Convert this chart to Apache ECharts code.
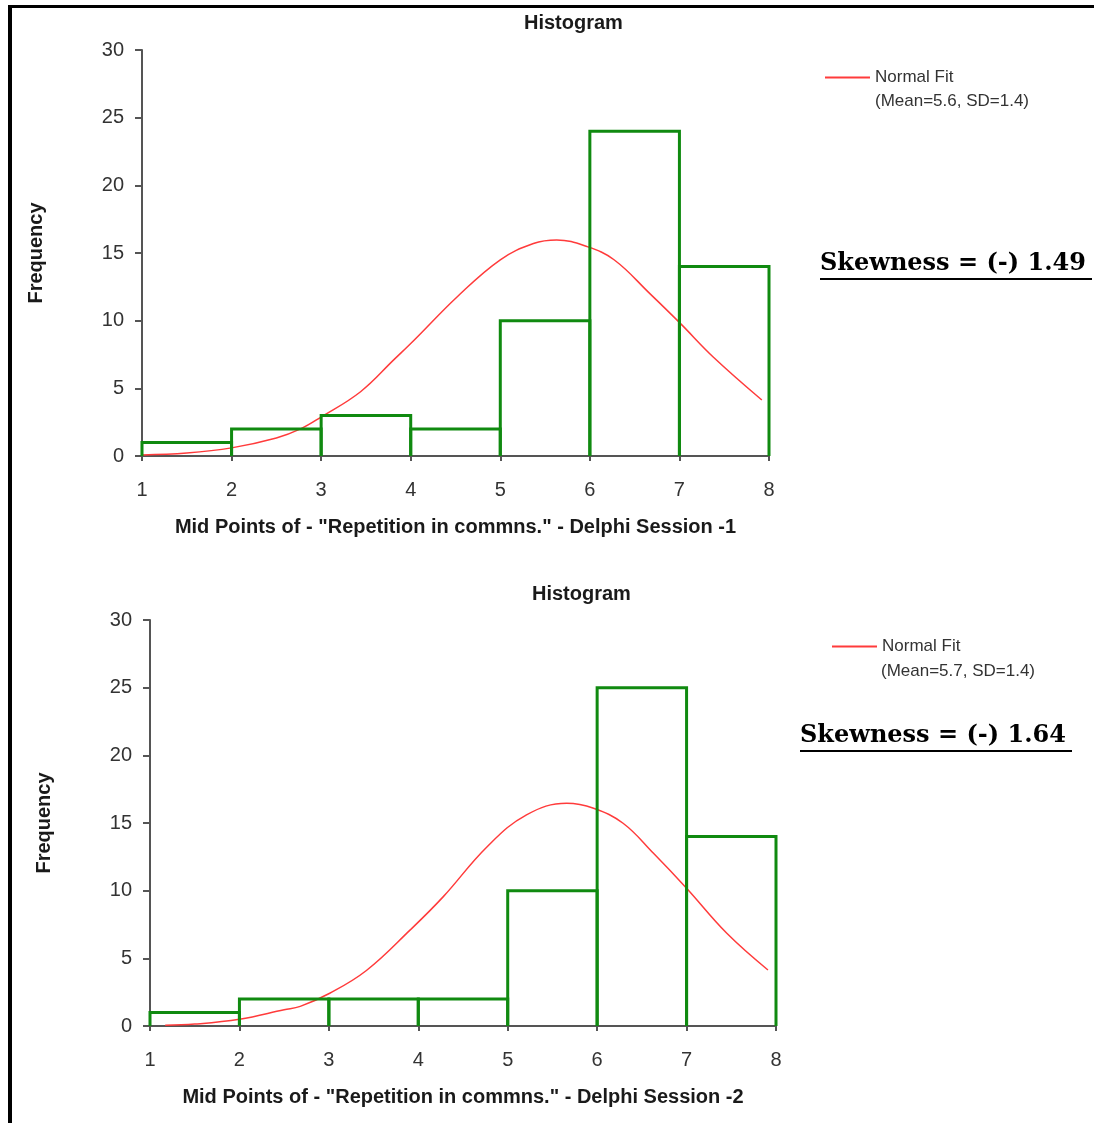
<!DOCTYPE html>
<html>
<head>
<meta charset="utf-8">
<script src="https://cdn.jsdelivr.net/npm/echarts@6/dist/echarts.min.js"></script>
<style>
html,body{margin:0;padding:0;background:#ffffff;}
#chart{width:1094px;height:1123px;}
</style>
</head>
<body>
<div id="chart"></div>
<script>
// ---- data ----
const binStart = [1, 2, 3, 4, 5, 6, 7];
const binEnd   = [2, 3, 4, 5, 6, 7, 8];
const freq1 = [1, 2, 3, 2, 10, 24, 14];
const freq2 = [1, 2, 2, 2, 10, 25, 14];

const fit1X = [1.0, 1.5, 2.0, 2.5, 2.77, 3.0, 3.44, 3.81, 4.04, 4.52, 5.0, 5.37, 5.63, 5.97, 6.27, 6.67, 7.01, 7.38, 7.92];
const fit1Y = [0.08, 0.22, 0.6, 1.33, 2.0, 2.88, 4.75, 7.1, 8.57, 11.77, 14.5, 15.7, 15.96, 15.47, 14.5, 12.0, 9.8, 7.3, 4.14];

const fit2X = [1.17, 1.5, 2.0, 2.5, 2.68, 3.01, 3.42, 3.91, 4.28, 4.77, 5.21, 5.66, 5.96, 6.29, 6.63, 7.0, 7.45, 7.91];
const fit2Y = [0.05, 0.14, 0.5, 1.2, 1.45, 2.42, 4.1, 7.1, 9.56, 13.25, 15.6, 16.46, 16.09, 14.98, 12.76, 10.18, 6.85, 4.14];

const titles = ['Histogram', 'Histogram'];
const xNames = ['Mid Points of - "Repetition in commns." - Delphi Session -1',
                'Mid Points of - "Repetition in commns." - Delphi Session -2'];
const yName = 'Frequency';
const fitName = 'Normal Fit';
const fitParams = ['(Mean=5.6, SD=1.4)', '(Mean=5.7, SD=1.4)'];
const skewTexts = ['Skewness = (-) 1.49', 'Skewness = (-) 1.64'];

// ---- build ----
const FONT = '"Liberation Sans", Arial, sans-serif';
const GREEN = '#108a10';
const RED = '#ff3b3b';

function zip(a, b) { return a.map((v, i) => [v, b[i]]); }
function bins(f) { return binStart.map((s, i) => [s, binEnd[i], f[i]]); }

const grids = [
  {left: 142, top: 50, width: 627, height: 406},
  {left: 150, top: 620, width: 626, height: 406}
];

function xAxis(i) {
  return {
    gridIndex: i, type: 'value', min: 1, max: 8, interval: 1,
    name: xNames[i], nameLocation: 'middle', nameGap: 61,
    nameTextStyle: {fontFamily: FONT, fontSize: 20, fontWeight: 'bold', color: '#1a1a1a'},
    axisLine: {show: true, lineStyle: {color: '#555', width: 2}},
    axisTick: {show: true, length: 5, lineStyle: {color: '#555', width: 2}},
    axisLabel: {fontFamily: FONT, fontSize: 20, color: '#333', margin: 24},
    splitLine: {show: false}
  };
}
function yAxis(i) {
  return {
    gridIndex: i, type: 'value', min: 0, max: 30, interval: 5,
    name: yName, nameLocation: 'middle', nameGap: 96, nameRotate: 90,
    nameTextStyle: {fontFamily: FONT, fontSize: 20, fontWeight: 'bold', color: '#1a1a1a'},
    axisLine: {show: true, lineStyle: {color: '#555', width: 2}},
    axisTick: {show: true, length: 7, lineStyle: {color: '#555', width: 2}},
    axisLabel: {fontFamily: FONT, fontSize: 20, color: '#333', margin: 18},
    splitLine: {show: false}
  };
}

function histSeries(i, f) {
  return {
    type: 'custom', xAxisIndex: i, yAxisIndex: i, z: 3,
    data: bins(f),
    renderItem: function (params, api) {
      const p0 = api.coord([api.value(0), 0]);
      const p1 = api.coord([api.value(1), api.value(2)]);
      return {
        type: 'polyline',
        shape: {points: [[p0[0], p0[1]], [p0[0], p1[1]], [p1[0], p1[1]], [p1[0], p0[1]]]},
        style: {fill: 'none', stroke: GREEN, lineWidth: 3}
      };
    }
  };
}
function fitSeries(i, xs, ys) {
  return {
    type: 'line', name: fitName, xAxisIndex: i, yAxisIndex: i, z: 2,
    data: zip(xs, ys), smooth: 0.4, showSymbol: false, symbol: 'none',
    lineStyle: {color: RED, width: 1.5}, itemStyle: {color: RED}
  };
}

const legendPos = [{left: 825, top: 69}, {left: 832, top: 638}];
const paramPos = [{x: 875, y: 101}, {x: 881, y: 671}];
const skewPos = [{x: 820, y: 264}, {x: 800, y: 736}];

const graphics = [
  {type: 'rect', shape: {x: 8, y: 5, width: 4, height: 1118}, style: {fill: '#000'}},
  {type: 'rect', shape: {x: 8, y: 5, width: 1086, height: 3}, style: {fill: '#000'}}
];
for (let i = 0; i < 2; i++) {
  graphics.push({type: 'text', x: paramPos[i].x, y: paramPos[i].y,
    style: {text: fitParams[i], font: '17px ' + FONT, fill: '#333', verticalAlign: 'middle'}});
  graphics.push({type: 'text', x: skewPos[i].x, y: skewPos[i].y,
    style: {text: skewTexts[i], font: 'bold 24px "DejaVu Serif", serif', fill: '#000', verticalAlign: 'middle'}});
  graphics.push({type: 'rect', shape: {x: skewPos[i].x, y: skewPos[i].y + 14, width: 272, height: 2}, style: {fill: '#000'}});
}

const option = {
  backgroundColor: '#ffffff',
  animation: false,
  title: [
    {text: titles[0], left: 524, top: 13, padding: 0,
     textStyle: {fontFamily: FONT, fontSize: 20, fontWeight: 'bold', color: '#1a1a1a'}},
    {text: titles[1], left: 532, top: 584, padding: 0,
     textStyle: {fontFamily: FONT, fontSize: 20, fontWeight: 'bold', color: '#1a1a1a'}}
  ],
  legend: [0, 1].map(i => ({
    data: [{name: fitName, icon: 'rect'}], left: legendPos[i].left, top: legendPos[i].top, padding: 0,
    itemWidth: 45, itemHeight: 2, orient: 'vertical',
    itemStyle: {color: RED},
    textStyle: {fontFamily: FONT, fontSize: 17, color: '#333'}
  })),
  grid: grids,
  xAxis: [xAxis(0), xAxis(1)],
  yAxis: [yAxis(0), yAxis(1)],
  series: [
    fitSeries(0, fit1X, fit1Y), histSeries(0, freq1),
    fitSeries(1, fit2X, fit2Y), histSeries(1, freq2)
  ],
  graphic: graphics
};

const chart = echarts.init(document.getElementById('chart'), null, {renderer: 'canvas'});
chart.setOption(option);
</script>
</body>
</html>
